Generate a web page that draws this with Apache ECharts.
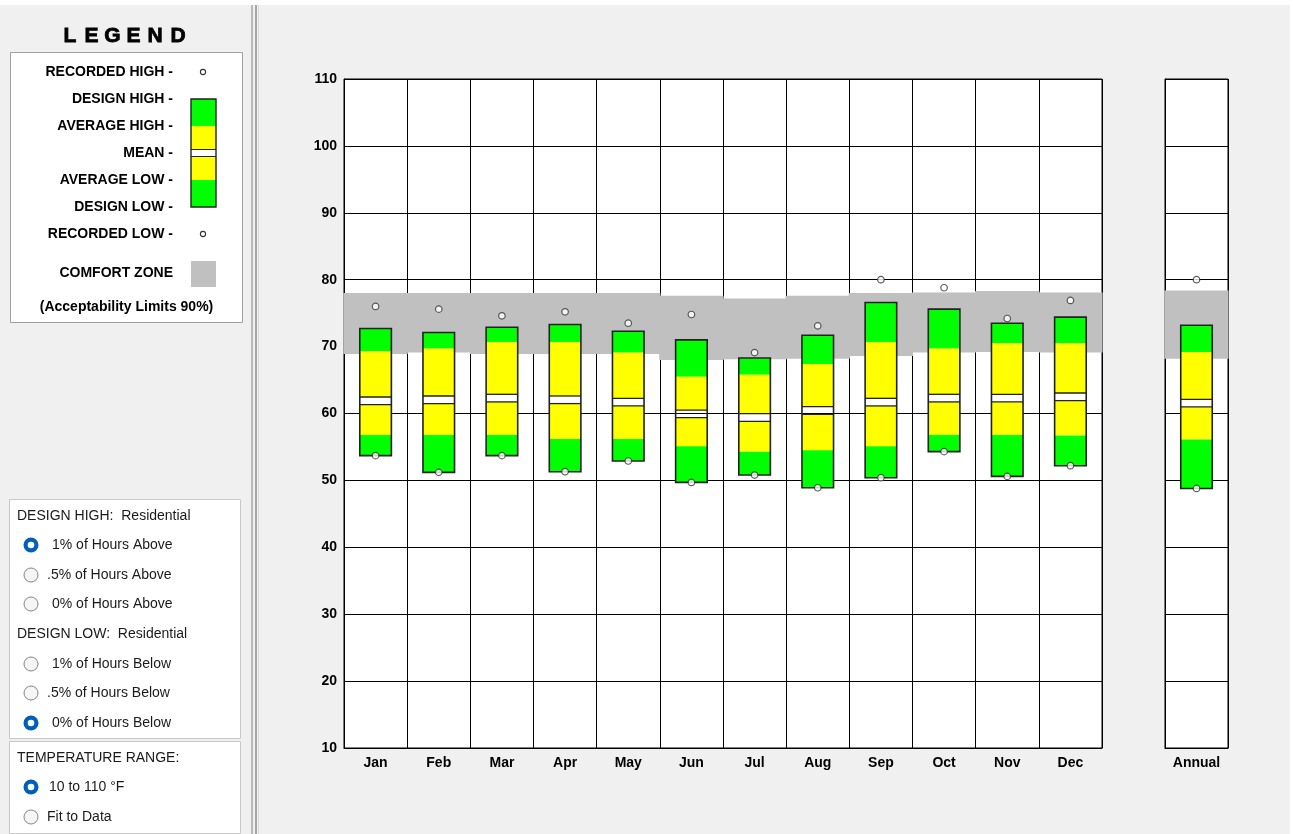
<!DOCTYPE html>
<html><head><meta charset="utf-8">
<script src="https://cdn.jsdelivr.net/npm/echarts@6/dist/echarts.min.js"></script>
<style>html,body{margin:0;padding:0;background:#fff;}#c{width:1293px;height:834px;}</style>
</head><body><div id="c"></div>
<script>
// ---- Data (°F) ----
const months = ['Jan','Feb','Mar','Apr','May','Jun','Jul','Aug','Sep','Oct','Nov','Dec'];
const recordedHigh = [76.0, 75.6, 74.6, 75.2, 73.5, 74.8, 69.1, 73.1, 80.0, 78.8, 74.2, 76.9];
const designHigh   = [72.7, 72.1, 72.9, 73.3, 72.3, 71.0, 68.3, 71.7, 76.6, 75.6, 73.5, 74.4];
const averageHigh  = [69.3, 69.7, 70.7, 70.7, 69.1, 65.5, 65.8, 67.4, 70.7, 69.7, 70.5, 70.5];
const meanTemp     = [61.9, 62.05, 62.3, 62.05, 61.7, 59.95, 59.4, 60.45, 61.7, 62.3, 62.3, 62.5];
const averageLow   = [56.8, 56.8, 56.8, 56.2, 56.2, 55.1, 54.3, 54.5, 55.1, 56.8, 56.8, 56.7];
const designLow    = [53.7, 51.2, 53.7, 51.3, 52.9, 49.7, 50.8, 48.9, 50.4, 54.3, 50.6, 52.2];
const recordedLow  = [53.7, 51.2, 53.7, 51.3, 52.9, 49.7, 50.8, 48.9, 50.4, 54.3, 50.6, 52.2];
const comfortHigh  = [78.0, 78.0, 78.0, 78.0, 78.0, 77.6, 77.2, 77.6, 78.0, 78.1, 78.3, 78.1];
const comfortLow   = [68.9, 69.1, 68.9, 68.9, 68.9, 68.0, 68.1, 68.2, 68.6, 69.1, 69.2, 69.1];

const annualLabel = ['Annual'];
const annualRecordedHigh = [80.0];
const annualDesignHigh = [73.2];
const annualAverageHigh = [69.2];
const annualMean = [61.55];
const annualAverageLow = [56.1];
const annualDesignLow = [48.8];
const annualRecordedLow = [48.8];
const annualComfortHigh = [78.4];
const annualComfortLow = [68.2];

const yTicks = {min: 10, max: 110, interval: 10};

// ---- Build ----
const GREEN = '#00ff00', YELLOW = '#ffff00', GRAY = '#c0c0c0', EDGE = '#222';
const BOLD = '"Liberation Sans", Arial, sans-serif';

function boxData(dl, al, m, ah, dh) {
  return dl.map((v, i) => [i, dl[i], al[i], m[i], ah[i], dh[i]]);
}
function comfortData(lo, hi) { return lo.map((v, i) => [i, lo[i], hi[i]]); }
function pts(arr) { return arr.map((v, i) => [i, v]); }

function renderBox(params, api) {
  const i = api.value(0);
  const pTop = api.coord([i, api.value(5)]);
  const pBot = api.coord([i, api.value(1)]);
  const ahY = api.coord([i, api.value(4)])[1];
  const alY = api.coord([i, api.value(2)])[1];
  const mY = api.coord([i, api.value(3)])[1];
  const w = api.size([1, 0])[0] * 0.5;
  const x0 = pTop[0] - w / 2;
  const g = 3.8;
  const r = (y1, y2, fill) => ({type: 'rect', shape: {x: x0, y: y1, width: w, height: y2 - y1}, style: {fill: fill}});
  const ln = (y) => ({type: 'line', shape: {x1: x0, y1: y, x2: x0 + w, y2: y}, style: {stroke: EDGE, lineWidth: 1.3}});
  return {type: 'group', children: [
    r(pTop[1], ahY, GREEN),
    r(ahY, mY - g, YELLOW),
    r(mY + g, alY, YELLOW),
    r(alY, pBot[1], GREEN),
    ln(mY - g), ln(mY + g),
    {type: 'rect', shape: {x: x0, y: pTop[1], width: w, height: pBot[1] - pTop[1]}, style: {fill: 'none', stroke: EDGE, lineWidth: 1.6}}
  ]};
}
function renderComfort(params, api) {
  const i = api.value(0);
  const lo = api.coord([i, api.value(1)]);
  const hi = api.coord([i, api.value(2)]);
  const cw = api.size([1, 0])[0];
  return {type: 'rect', shape: {x: lo[0] - cw / 2 - 0.6, y: hi[1], width: cw + 1.2, height: lo[1] - hi[1]}, style: {fill: GRAY}};
}

const chart = echarts.init(document.getElementById('c'), null, {renderer: 'canvas'});

const yAxisBase = {
  type: 'value', min: yTicks.min, max: yTicks.max, interval: yTicks.interval,
  axisLine: {show: true, lineStyle: {color: '#000'}}, axisTick: {show: false},
  splitLine: {show: true, lineStyle: {color: '#000', width: 1}}
};
const xAxisBase = {
  type: 'category', axisTick: {show: false},
  axisLine: {show: true, lineStyle: {color: '#000'}},
  splitLine: {show: true, interval: 0, lineStyle: {color: '#000', width: 1}},
  axisLabel: {color: '#000', fontWeight: 'bold', fontSize: 14, fontFamily: BOLD, margin: 8, interval: 0}
};

// ---- Left panel graphics ----
const graphics = [];
graphics.push({type: 'rect', shape: {x: 0, y: 5, width: 1290, height: 829}, style: {fill: '#f0f0f0'}, z: -10, silent: true});
// separator
graphics.push({type: 'rect', shape: {x: 251, y: 5, width: 2, height: 829}, style: {fill: '#b9b9b9'}, z: -9});
graphics.push({type: 'rect', shape: {x: 255, y: 5, width: 2, height: 829}, style: {fill: '#a6a6a6'}, z: -9});
graphics.push({type: 'rect', shape: {x: 258, y: 5, width: 1, height: 829}, style: {fill: '#dadada'}, z: -9});

// LEGEND title
const legendLetters = ['L','E','G','E','N','D'];
const letterX = [70, 91.5, 112.5, 133.5, 155, 178];
legendLetters.forEach((ch, k) => graphics.push({type: 'text', x: letterX[k], y: 36,
  style: {text: ch, fill: '#000', font: '900 21px ' + BOLD, textAlign: 'center', textVerticalAlign: 'middle', stroke: '#000', lineWidth: 0.8}}));

graphics.push({type: 'rect', shape: {x: 10.5, y: 52.5, width: 232, height: 270}, style: {fill: '#fff', stroke: '#a0a0a0', lineWidth: 1}});
const legendRows = [['RECORDED HIGH -', 72], ['DESIGN HIGH -', 99], ['AVERAGE HIGH -', 126], ['MEAN -', 153],
  ['AVERAGE LOW -', 180], ['DESIGN LOW -', 207], ['RECORDED LOW -', 234], ['COMFORT ZONE', 273]];
legendRows.forEach(([t, y]) => graphics.push({type: 'text', x: 173, y: y,
  style: {text: t, fill: '#000', font: 'bold 14px ' + BOLD, textAlign: 'right', textVerticalAlign: 'middle'}}));
graphics.push({type: 'text', x: 126.5, y: 307,
  style: {text: '(Acceptability Limits 90%)', fill: '#000', font: 'bold 14px ' + BOLD, textAlign: 'center', textVerticalAlign: 'middle'}});
// swatch
graphics.push({type: 'rect', shape: {x: 191, y: 99, width: 25, height: 27}, style: {fill: GREEN}});
graphics.push({type: 'rect', shape: {x: 191, y: 126, width: 25, height: 23}, style: {fill: YELLOW}});
graphics.push({type: 'rect', shape: {x: 191, y: 157, width: 25, height: 23}, style: {fill: YELLOW}});
graphics.push({type: 'rect', shape: {x: 191, y: 180, width: 25, height: 27}, style: {fill: GREEN}});
graphics.push({type: 'line', shape: {x1: 191, y1: 149.5, x2: 216, y2: 149.5}, style: {stroke: EDGE, lineWidth: 1}});
graphics.push({type: 'line', shape: {x1: 191, y1: 156.5, x2: 216, y2: 156.5}, style: {stroke: EDGE, lineWidth: 1}});
graphics.push({type: 'rect', shape: {x: 191, y: 99, width: 25, height: 108}, style: {fill: 'none', stroke: EDGE, lineWidth: 1.4}});
graphics.push({type: 'circle', shape: {cx: 203, cy: 72, r: 2.6}, style: {fill: '#fff', stroke: '#333', lineWidth: 1.1}});
graphics.push({type: 'circle', shape: {cx: 203, cy: 234, r: 2.6}, style: {fill: '#fff', stroke: '#333', lineWidth: 1.1}});
graphics.push({type: 'rect', shape: {x: 191, y: 261, width: 25, height: 26}, style: {fill: GRAY}});

// radio panels
const REG = '"Liberation Sans", Arial, sans-serif';
graphics.push({type: 'rect', shape: {x: 9.5, y: 499.5, width: 231, height: 239}, style: {fill: '#fff', stroke: '#c8c8c8', lineWidth: 1}});
graphics.push({type: 'rect', shape: {x: 9.5, y: 741.5, width: 231, height: 92}, style: {fill: '#fff', stroke: '#c8c8c8', lineWidth: 1}});
const headers = [['DESIGN HIGH:  Residential', 516], ['DESIGN LOW:  Residential', 634], ['TEMPERATURE RANGE:', 758]];
headers.forEach(([t, y]) => graphics.push({type: 'text', x: 17, y: y,
  style: {text: t, fill: '#1a1a1a', font: '14px ' + REG, textAlign: 'left', textVerticalAlign: 'middle'}}));
const radios = [
  ['1% of Hours Above', 545, 52, true], ['.5% of Hours Above', 575, 47, false], ['0% of Hours Above', 604, 52, false],
  ['1% of Hours Below', 664, 52, false], ['.5% of Hours Below', 693, 47, false], ['0% of Hours Below', 723, 52, true],
  ['10 to 110 \u00b0F', 787, 49, true], ['Fit to Data', 817, 47, false]
];
radios.forEach(([t, y, tx, on]) => {
  if (on) {
    graphics.push({type: 'circle', shape: {cx: 31, cy: y, r: 7.5}, style: {fill: '#005fb8'}});
    graphics.push({type: 'circle', shape: {cx: 31, cy: y, r: 3.3}, style: {fill: '#fff'}});
  } else {
    graphics.push({type: 'circle', shape: {cx: 31, cy: y, r: 7}, style: {fill: '#f5f5f5', stroke: '#858585', lineWidth: 1}});
  }
  graphics.push({type: 'text', x: tx, y: y,
    style: {text: t, fill: '#1a1a1a', font: '14px ' + REG, textAlign: 'left', textVerticalAlign: 'middle'}});
});

const circleStyle = {color: '#fff', borderColor: '#333', borderWidth: 1.2};

chart.setOption({
  animation: false,
  backgroundColor: 'transparent',
  graphic: graphics,
  grid: [
    {left: 344, top: 79, width: 758, height: 669, show: true, backgroundColor: '#fff', borderColor: '#000', borderWidth: 1},
    {left: 1165, top: 79, width: 63, height: 669, show: true, backgroundColor: '#fff', borderColor: '#000', borderWidth: 1}
  ],
  xAxis: [
    Object.assign({}, xAxisBase, {gridIndex: 0, data: months}),
    Object.assign({}, xAxisBase, {gridIndex: 1, data: annualLabel})
  ],
  yAxis: [
    Object.assign({}, yAxisBase, {gridIndex: 0,
      axisLabel: {color: '#000', fontWeight: 'bold', fontSize: 14, fontFamily: BOLD, margin: 7}}),
    Object.assign({}, yAxisBase, {gridIndex: 1, axisLabel: {show: false}})
  ],
  series: [
    {type: 'custom', xAxisIndex: 0, yAxisIndex: 0, renderItem: renderComfort, data: comfortData(comfortLow, comfortHigh),
      encode: {x: 0, y: [1, 2]}, z: 1, silent: true},
    {type: 'custom', xAxisIndex: 0, yAxisIndex: 0, renderItem: renderBox,
      data: boxData(designLow, averageLow, meanTemp, averageHigh, designHigh), encode: {x: 0, y: [1, 2, 3, 4, 5]}, z: 3, silent: true},
    {type: 'scatter', xAxisIndex: 0, yAxisIndex: 0, data: pts(recordedHigh), symbol: 'circle', symbolSize: 6.5, itemStyle: circleStyle, z: 5, silent: true},
    {type: 'scatter', xAxisIndex: 0, yAxisIndex: 0, data: pts(recordedLow), symbol: 'circle', symbolSize: 6.5, itemStyle: circleStyle, z: 5, silent: true},

    {type: 'custom', xAxisIndex: 1, yAxisIndex: 1, renderItem: renderComfort, data: comfortData(annualComfortLow, annualComfortHigh),
      encode: {x: 0, y: [1, 2]}, z: 1, silent: true},
    {type: 'custom', xAxisIndex: 1, yAxisIndex: 1, renderItem: renderBox,
      data: boxData(annualDesignLow, annualAverageLow, annualMean, annualAverageHigh, annualDesignHigh), encode: {x: 0, y: [1, 2, 3, 4, 5]}, z: 3, silent: true},
    {type: 'scatter', xAxisIndex: 1, yAxisIndex: 1, data: pts(annualRecordedHigh), symbol: 'circle', symbolSize: 6.5, itemStyle: circleStyle, z: 5, silent: true},
    {type: 'scatter', xAxisIndex: 1, yAxisIndex: 1, data: pts(annualRecordedLow), symbol: 'circle', symbolSize: 6.5, itemStyle: circleStyle, z: 5, silent: true}
  ]
});
</script></body></html>
